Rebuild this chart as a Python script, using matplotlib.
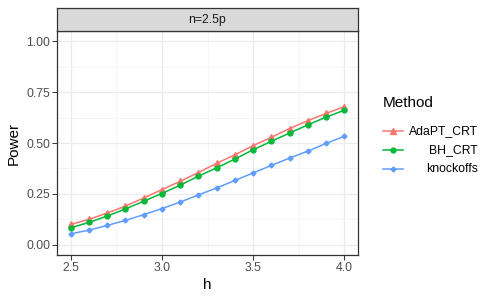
import matplotlib
matplotlib.use("Agg")
import matplotlib.pyplot as plt
from matplotlib.lines import Line2D

plt.rcParams['font.family'] = ['Liberation Sans', 'DejaVu Sans']

h = [2.5, 2.6, 2.7, 2.8, 2.9, 3.0, 3.1, 3.2, 3.3, 3.4, 3.5, 3.6, 3.7, 3.8, 3.9, 4.0]
adapt_crt = [0.100, 0.125, 0.156, 0.190, 0.230, 0.271, 0.312, 0.355, 0.400, 0.442,
             0.487, 0.528, 0.571, 0.610, 0.645, 0.679]
bh_crt = [0.084, 0.110, 0.141, 0.176, 0.214, 0.252, 0.293, 0.337, 0.378, 0.421,
          0.467, 0.508, 0.549, 0.589, 0.627, 0.661]
knockoffs = [0.054, 0.072, 0.095, 0.120, 0.148, 0.178, 0.210, 0.245, 0.279, 0.316,
             0.353, 0.390, 0.426, 0.460, 0.498, 0.533]
methods = ["AdaPT_CRT", "BH_CRT", "knockoffs"]
colors = ["#F8766D", "#00BA38", "#619CFF"]
markers = ["^", "o", "D"]
msizes = [4.5, 3.5, 2.5]
xticks = [2.5, 3.0, 3.5, 4.0]
yticks = [0.0, 0.25, 0.5, 0.75, 1.0]
strip_label = "n=2.5p"

W, H = 498, 299
fig = plt.figure(figsize=(W / 100, H / 100), dpi=100)
left, right, top, bottom = 57, 358, 31, 255
ax = fig.add_axes([left / W, (H - bottom) / H, (right - left) / W, (bottom - top) / H])
ax.set_facecolor("white")

for ys, c, m, ms, lab in zip([adapt_crt, bh_crt, knockoffs], colors, markers, msizes, methods):
    ax.plot(h, ys, color=c, marker=m, markersize=ms, linewidth=1.1, label=lab, zorder=3)

ax.set_xlim(2.425, 4.075)
ax.set_ylim(-0.05, 1.05)
ax.set_xticks(xticks)
ax.set_xticklabels([f"{v:.1f}" for v in xticks])
ax.set_yticks(yticks)
ax.set_yticklabels([f"{v:.2f}" for v in yticks])
ax.set_xticks([2.75, 3.25, 3.75], minor=True)
ax.set_yticks([0.125, 0.375, 0.625, 0.875], minor=True)
ax.grid(True, which="major", color="#EBEBEB", linewidth=0.9, zorder=0)
ax.grid(True, which="minor", color="#F2F2F2", linewidth=0.5, zorder=0)
ax.set_axisbelow(True)
ax.tick_params(which="major", length=3.5, width=0.7, color="#333333", labelsize=8.8,
               labelcolor="#4D4D4D", pad=1.5)
ax.tick_params(which="minor", length=0)
for s in ax.spines.values():
    s.set_color("#333333")
    s.set_linewidth(0.9)
ax.set_xlabel("h", fontsize=11, labelpad=3)
ax.set_ylabel("Power", fontsize=11, labelpad=4)

# strip
sax = fig.add_axes([left / W, (H - top) / H, (right - left) / W, (top - 8) / H])
sax.set_xlim(0, 1); sax.set_ylim(0, 1)
sax.set_xticks([]); sax.set_yticks([])
sax.set_facecolor("#D9D9D9")
for s in sax.spines.values():
    s.set_color("#333333")
    s.set_linewidth(0.9)
sax.text(0.5, 0.5, strip_label, ha="center", va="center", fontsize=8.8, color="#1A1A1A")

# legend
fig.text(383 / W, (H - 103) / H, "Method", fontsize=11, ha="left", va="center")
for i, (c, m, ms, lab) in enumerate(zip(colors, markers, msizes, methods)):
    yy = (H - (131 + 19 * i)) / H
    fig.add_artist(Line2D([383 / W, 403 / W], [yy, yy], color=c, linewidth=1.1,
                          marker=None, transform=fig.transFigure))
    fig.add_artist(Line2D([393 / W], [yy], color=c, marker=m, markersize=ms,
                          linestyle="none", transform=fig.transFigure))
    fig.text(478 / W, yy, lab, fontsize=8.8, ha="right", va="center")

fig.savefig("out.png", dpi=100)
